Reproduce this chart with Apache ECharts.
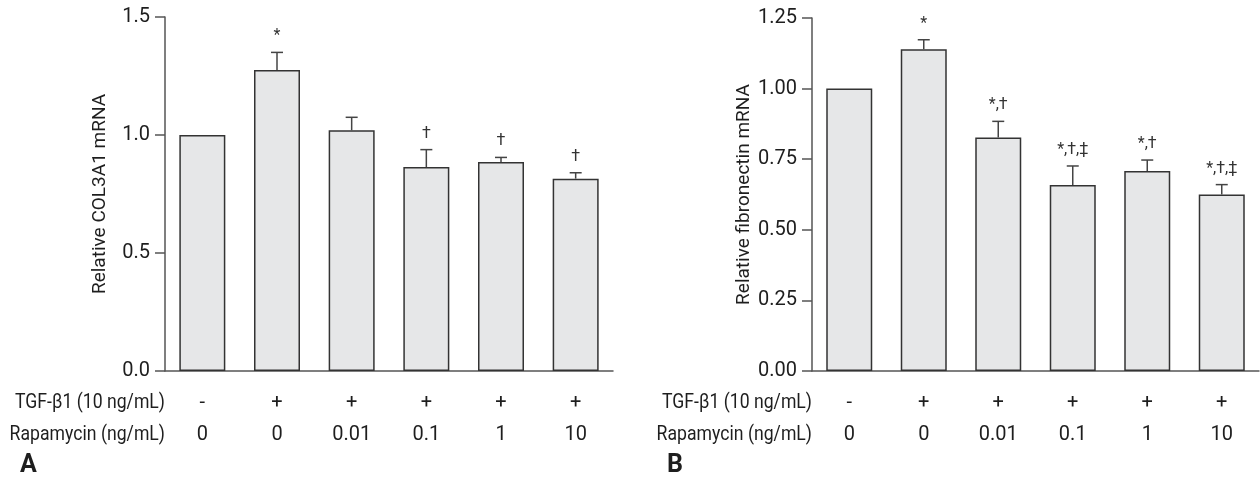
<!DOCTYPE html>
<html>
<head>
<meta charset="utf-8">
<script src="https://cdn.jsdelivr.net/npm/echarts@6/dist/echarts.min.js"></script>
<style>
  html, body { margin: 0; padding: 0; background: #fff; }
  #chart { width: 1260px; height: 478px; }
</style>
</head>
<body>
<div id="chart"></div>
<script>
var FONT = "Roboto, 'Liberation Sans', sans-serif";

// rows under the x axis
var tgfRow = ['-', '+', '+', '+', '+', '+'];
var rapaRow = ['0', '0', '0.01', '0.1', '1', '10'];

// panel A: COL3A1
var colMean = [1.0, 1.275, 1.02, 0.864, 0.886, 0.815];
var colErr = [0, 0.075, 0.055, 0.074, 0.019, 0.025];
var colNotes = ['', '*', '', '†', '†', '†'];
var colTicks = [0, 0.5, 1.0, 1.5];

// panel B: fibronectin
var fnMean = [1.0, 1.139, 0.827, 0.659, 0.708, 0.625];
var fnErr = [0, 0.034, 0.057, 0.067, 0.039, 0.035];
var fnNotes = ['', '*', '*,†', '*,†,‡', '*,†', '*,†,‡'];
var fnTicks = [0, 0.25, 0.5, 0.75, 1.0, 1.25];

var categories = tgfRow.map(function (t, i) { return t + '|' + rapaRow[i]; });

var axisColor = '#555';
var textColor = '#1e1e1e';

function errData(mean, err) {
  return mean.map(function (m, i) { return [i, m, m + err[i]]; });
}

function errRender(notes) {
  return function (params, api) {
    var mean = api.value(1), top = api.value(2);
    var pMean = api.coord([api.value(0), mean]);
    var pTop = api.coord([api.value(0), top]);
    var kids = [];
    if (top > mean) {
      kids.push({
        type: 'line',
        shape: { x1: pMean[0], y1: pMean[1], x2: pTop[0], y2: pTop[1] },
        style: { stroke: '#444', lineWidth: 1.5 }
      });
      kids.push({
        type: 'line',
        shape: { x1: pTop[0] - 6, y1: pTop[1], x2: pTop[0] + 6, y2: pTop[1] },
        style: { stroke: '#444', lineWidth: 1.5 }
      });
    }
    var note = notes[params.dataIndex];
    if (note) {
      kids.push({
        type: 'text',
        x: pTop[0],
        y: pTop[1] - 16,
        style: {
          text: note,
          align: 'center',
          verticalAlign: 'middle',
          fill: '#333',
          font: '16px ' + FONT
        }
      });
    }
    return { type: 'group', children: kids };
  };
}

function xAxisFor(gridIndex) {
  return {
    type: 'category',
    gridIndex: gridIndex,
    data: categories,
    axisLine: { lineStyle: { color: axisColor, width: 1.5 } },
    axisTick: { length: 10, lineStyle: { color: axisColor, width: 1.5 } },
    axisLabel: {
      margin: 16,
      formatter: function (v) {
        var p = v.split('|');
        return '{a|' + p[0] + '}\n{a|' + p[1] + '}';
      },
      rich: {
        a: { fontFamily: FONT, fontSize: 20, lineHeight: 32, color: textColor }
      }
    }
  };
}

function yAxisFor(gridIndex, name, ticks, digits) {
  return {
    type: 'value',
    gridIndex: gridIndex,
    min: ticks[0],
    max: ticks[ticks.length - 1],
    interval: ticks[1] - ticks[0],
    name: name,
    nameLocation: 'middle',
    nameGap: 55,
    nameTextStyle: { fontFamily: FONT, fontSize: 19, color: textColor },
    axisLine: { show: true, lineStyle: { color: axisColor, width: 1.5 } },
    axisTick: { show: true, length: 10, lineStyle: { color: axisColor, width: 1.5 } },
    axisLabel: {
      margin: 15,
      fontFamily: FONT,
      fontSize: 20,
      color: textColor,
      formatter: function (v) { return v.toFixed(digits); }
    },
    splitLine: { show: false }
  };
}

function barSeries(idx, data) {
  return {
    type: 'bar',
    xAxisIndex: idx,
    yAxisIndex: idx,
    data: data,
    barWidth: 46,
    itemStyle: { color: '#e6e7e8', borderColor: '#333', borderWidth: 1.5 },
    silent: true
  };
}

// condensed look for the row titles
function rowTitles(rightX) {
  return [
    {
      type: 'text', x: rightX, y: 403, scaleX: 0.84,
      style: { text: 'TGF-β1 (10 ng/mL)', align: 'right', verticalAlign: 'middle', font: '21px ' + FONT, fill: textColor }
    },
    {
      type: 'text', x: rightX, y: 435, scaleX: 0.84,
      style: { text: 'Rapamycin (ng/mL)', align: 'right', verticalAlign: 'middle', font: '21px ' + FONT, fill: textColor }
    }
  ];
}

var chart = echarts.init(document.getElementById('chart'), null, { renderer: 'canvas' });

var option = {
  backgroundColor: '#fff',
  animation: false,
  grid: [
    { left: 165, right: 647, top: 17, bottom: 107 },
    { left: 812, right: 1, top: 18, bottom: 107 }
  ],
  xAxis: [xAxisFor(0), xAxisFor(1)],
  yAxis: [
    yAxisFor(0, 'Relative COL3A1 mRNA', colTicks, 1),
    yAxisFor(1, 'Relative fibronectin mRNA', fnTicks, 2)
  ],
  series: [
    barSeries(0, colMean),
    {
      type: 'custom',
      xAxisIndex: 0,
      yAxisIndex: 0,
      data: errData(colMean, colErr),
      renderItem: errRender(colNotes),
      z: 5,
      silent: true
    },
    barSeries(1, fnMean),
    {
      type: 'custom',
      xAxisIndex: 1,
      yAxisIndex: 1,
      data: errData(fnMean, fnErr),
      renderItem: errRender(fnNotes),
      z: 5,
      silent: true
    }
  ],
  graphic: rowTitles(165).concat(rowTitles(812)).concat([
    {
      type: 'text', x: 20, y: 466,
      style: { text: 'A', align: 'left', verticalAlign: 'middle', font: 'bold 25px ' + FONT, fill: textColor }
    },
    {
      type: 'text', x: 667, y: 466,
      style: { text: 'B', align: 'left', verticalAlign: 'middle', font: 'bold 25px ' + FONT, fill: textColor }
    }
  ])
};

chart.setOption(option);
</script>
</body>
</html>
